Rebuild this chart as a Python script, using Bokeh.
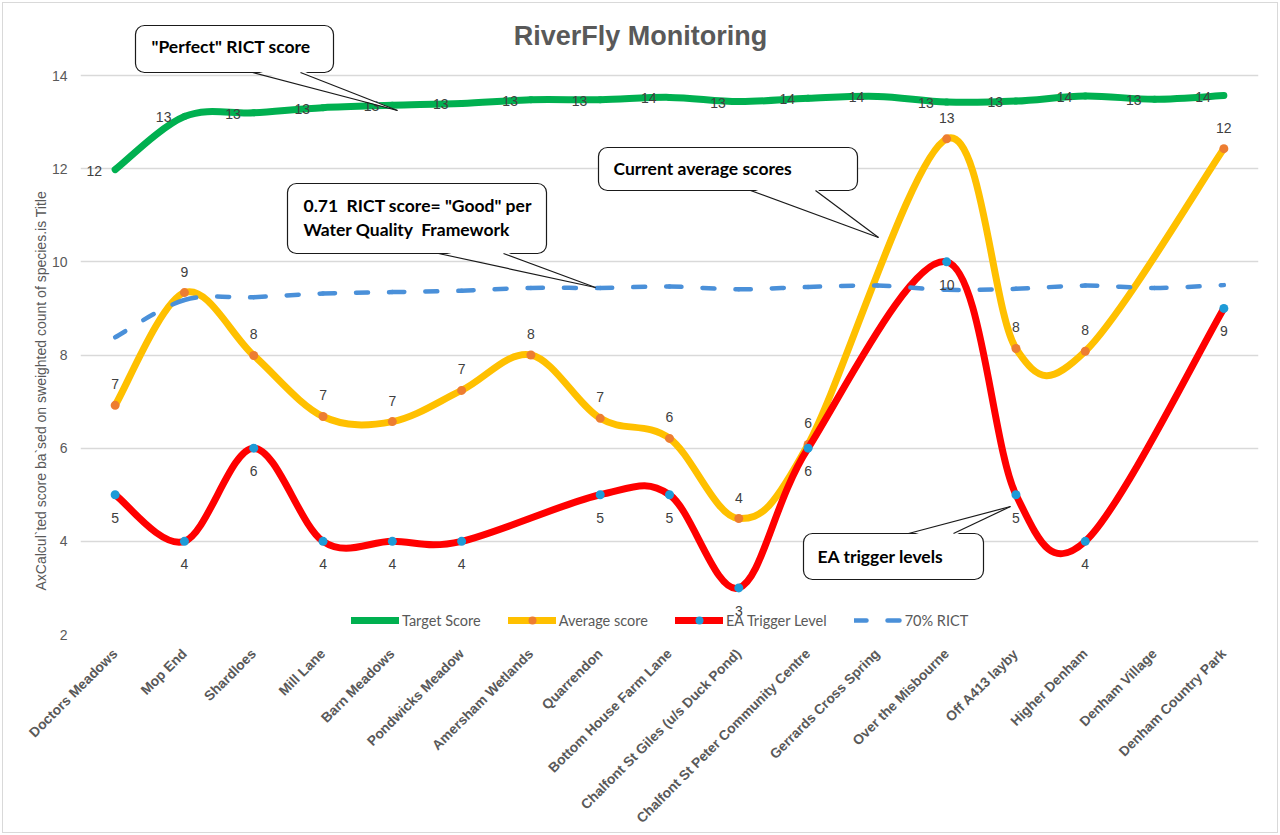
import numpy as np
from bokeh.plotting import figure
from bokeh.models import Range1d, FixedTicker, ColumnDataSource, Legend, LegendItem, Label, Title
from bokeh.core.properties import value
from bokeh.embed import file_html
from bokeh.resources import INLINE

# ---------------- data ----------------
sites = ["Doctors Meadows", "Mop End", "Shardloes", "Mill Lane", "Barn Meadows",
         "Pondwicks Meadow", "Amersham Wetlands", "Quarrendon", "Bottom House Farm Lane",
         "Chalfont St Giles (u/s Duck Pond)", "Chalfont St Peter Community Centre",
         "Gerrards Cross Spring", "Over the Misbourne", "Off A413 layby", "Higher Denham",
         "Denham Village", "Denham Country Park"]
target = [11.98, 13.12, 13.2, 13.31, 13.36, 13.4, 13.48, 13.48, 13.53, 13.44, 13.51,
          13.55, 13.43, 13.45, 13.56, 13.49, 13.57]
average = [6.92, 9.34, 7.99, 6.68, 6.57, 7.24, 8.0, 6.64, 6.21, 4.49, 6.08,
           None, 12.64, 8.14, 8.08, None, 12.43]
ea_trigger = [5, 4, 6, 4, 4, 4, None, 5, 5, 3, 6, None, 10, 5, 4, None, 9]
rict70 = [8.38, 9.18, 9.24, 9.32, 9.35, 9.38, 9.44, 9.44, 9.47, 9.41, 9.46,
          9.49, 9.40, 9.42, 9.49, 9.44, 9.50]
y_ticks = [2, 4, 6, 8, 10, 12, 14]

N = len(sites)

# ---------------- layout helpers (pixel -> data for annotations) ----------------
FL, FR, Y2, Y14 = 80, 1258, 634, 75
XPX = (FR - FL) / N
YPX = (Y2 - Y14) / 12.0
def dx(px):
    return (px - FL) / XPX - 0.5
def dy(py):
    return 2 + (Y2 - py) / YPX

p = figure(width=1280, height=835, x_range=Range1d(-0.5, N - 0.5),
           y_range=Range1d(2, dy(8)), output_backend="svg", toolbar_location=None,
           min_border_left=80, min_border_right=22, min_border_top=8, min_border_bottom=201)
p.outline_line_color = None
p.background_fill_color = "white"
p.border_fill_color = None
p.styles = {"background-color": "white",
            "box-shadow": "inset 0 0 0 2px white, inset 0 0 0 3px #d9d9d9"}

p.xgrid.visible = False
p.ygrid.ticker = FixedTicker(ticks=y_ticks)
p.ygrid.grid_line_color = "#d9d9d9"
p.ygrid.grid_line_width = 1.3

p.yaxis.ticker = FixedTicker(ticks=y_ticks)
p.yaxis.axis_line_color = None
p.yaxis.major_tick_line_color = None
p.yaxis.minor_tick_line_color = None
p.yaxis.major_tick_out = 0
p.yaxis.major_tick_in = 0
p.yaxis.major_label_standoff = 13
p.yaxis.major_label_text_font = "Liberation Sans"
p.yaxis.major_label_text_font_size = "14px"
p.yaxis.major_label_text_color = "#595959"

p.xaxis.ticker = FixedTicker(ticks=list(range(N)))
p.xaxis.major_label_overrides = {i: s for i, s in enumerate(sites)}
p.xaxis.major_label_orientation = np.pi / 4
p.xaxis.axis_line_color = None
p.xaxis.major_tick_line_color = None
p.xaxis.minor_tick_line_color = None
p.xaxis.major_label_standoff = 11
p.xaxis.major_label_text_font = "Liberation Sans"
p.xaxis.major_label_text_font_style = "bold"
p.xaxis.major_label_text_font_size = "13.8px"
p.xaxis.major_label_text_color = "#595959"


def smooth(vals):
    pts = [(i, v) for i, v in enumerate(vals) if v is not None]
    n = len(pts)
    d = {k: [] for k in ["x0", "y0", "x1", "y1", "cx0", "cy0", "cx1", "cy1"]}
    for i in range(n - 1):
        pm = pts[i - 1] if i > 0 else pts[i]
        p0 = pts[i]
        p1 = pts[i + 1]
        pp = pts[i + 2] if i + 2 < n else pts[i + 1]
        d["x0"].append(p0[0]); d["y0"].append(p0[1])
        d["x1"].append(p1[0]); d["y1"].append(p1[1])
        d["cx0"].append(p0[0] + (p1[0] - pm[0]) / 6.0)
        d["cy0"].append(p0[1] + (p1[1] - pm[1]) / 6.0)
        d["cx1"].append(p1[0] - (pp[0] - p0[0]) / 6.0)
        d["cy1"].append(p1[1] - (pp[1] - p0[1]) / 6.0)
    return ColumnDataSource(d)


def points(vals):
    xs = [i for i, v in enumerate(vals) if v is not None]
    ys = [v for v in vals if v is not None]
    return ColumnDataSource(dict(x=xs, y=ys, t=[str(int(np.floor(v + 0.5))) for v in ys]))


GREEN, YELLOW, ORANGE, RED, BLUE, DASH = "#00B050", "#FFC000", "#ED7D31", "#FF0000", "#1E9BD7", "#4A90D9"
LW = 7

bz = dict(x0="x0", y0="y0", x1="x1", y1="y1", cx0="cx0", cy0="cy0", cx1="cx1", cy1="cy1")

p.bezier(**bz, source=smooth(target), line_color=GREEN, line_width=LW, line_cap="round")
p.bezier(**bz, source=smooth(average), line_color=YELLOW, line_width=LW, line_cap="round")
avg_pts = points(average)
r_avg_m = p.scatter("x", "y", source=avg_pts, size=9, fill_color=ORANGE, line_color=None)
p.bezier(**bz, source=smooth(ea_trigger), line_color=RED, line_width=LW, line_cap="round")
ea_pts = points(ea_trigger)
r_ea_m = p.scatter("x", "y", source=ea_pts, size=9, fill_color=BLUE, line_color=None)
p.bezier(**bz, source=smooth(rict70), line_color=DASH, line_width=4.5, line_cap="round",
         line_dash="12 21")

# data labels
lab_font = value("Liberation Sans")
lab_size = value("14px")
p.text("x", "y", "t", source=points(target), text_font=lab_font, text_font_size=lab_size,
       text_color="#404040", text_align="right", text_baseline="middle", x_offset=-13, y_offset=1)
p.text("x", "y", "t", source=avg_pts, text_font=lab_font, text_font_size=lab_size,
       text_color="#404040", text_align="center", text_baseline="middle", y_offset=-21)
p.text("x", "y", "t", source=ea_pts, text_font=lab_font, text_font_size=lab_size,
       text_color="#404040", text_align="center", text_baseline="middle", y_offset=23)

# legend (line samples)
lg_g = p.line(x=[np.nan], y=[np.nan], line_color=GREEN, line_width=LW, line_cap="round")
lg_y = p.line(x=[np.nan], y=[np.nan], line_color=YELLOW, line_width=LW, line_cap="round")
lg_r = p.line(x=[np.nan], y=[np.nan], line_color=RED, line_width=LW, line_cap="round")
lg_d = p.line(x=[np.nan], y=[np.nan], line_color=DASH, line_width=4.5, line_cap="round",
              line_dash="12 21")
legend = Legend(items=[
    LegendItem(label="Target Score", renderers=[lg_g]),
    LegendItem(label="Average score", renderers=[lg_y, r_avg_m]),
    LegendItem(label="EA Trigger Level", renderers=[lg_r, r_ea_m]),
    LegendItem(label="70% RICT", renderers=[lg_d]),
], orientation="horizontal", location=(271, 4), padding=0, margin=0, spacing=27,
   glyph_width=48, glyph_height=20, label_height=20, label_standoff=3,
   border_line_color=None, background_fill_alpha=0,
   label_text_font="Lato", label_text_font_size="14.5px",
   label_text_color="#595959")
p.add_layout(legend, "center")

# callouts
callouts = [
    dict(box=(135, 333, 25, 72), base=((252, 72), (300, 72)), tip=(397, 110),
         lines=['"Perfect" RICT score'], tx=151, ty=[46]),
    dict(box=(287, 546, 183, 253), base=((438, 253), (503, 253)), tip=(595, 287),
         lines=['0.71\u00a0 RICT score= "Good" per', 'Water Quality\u00a0 Framework'], tx=303, ty=[205, 229]),
    dict(box=(598, 857, 147, 190), base=((750, 190), (815, 190)), tip=(878, 237),
         lines=['Current average scores'], tx=613, ty=[168]),
    dict(box=(803, 983, 533, 579), base=((908, 533), (953, 533)), tip=(1010, 506),
         lines=['EA trigger levels'], tx=817, ty=[556]),
]
for c in callouts:
    l, r, t, b = c["box"]
    p.quad(left=dx(l), right=dx(r), top=dy(t), bottom=dy(b), fill_color="white",
           line_color="#1a1a1a", line_width=1.2, border_radius=9)
    (bx1, by1), (bx2, by2) = c["base"]
    tx_, ty_ = c["tip"]
    inset = -2.5 if ty_ > by1 else 2.5
    p.patch(x=[dx(bx1), dx(bx2), dx(tx_)], y=[dy(by1 + inset), dy(by2 + inset), dy(ty_)],
            fill_color="white", line_color=None)
    p.segment(x0=[dx(bx1), dx(bx2)], y0=[dy(by1), dy(by2)], x1=[dx(tx_), dx(tx_)],
              y1=[dy(ty_), dy(ty_)], line_color="#1a1a1a", line_width=1.2)
    for line, yy in zip(c["lines"], c["ty"]):
        p.add_layout(Label(x=dx(c["tx"]), y=dy(yy), text=line, text_font="Lato",
                           text_font_style="bold", text_font_size="17.5px", text_color="black",
                           text_align="left", text_baseline="middle"))

# title
p.add_layout(Label(x=dx(640), y=dy(35), text="RiverFly Monitoring", text_font="Liberation Sans",
                   text_font_style="bold", text_font_size="27px", text_color="#595959",
                   text_align="center", text_baseline="middle"))
# y axis title
p.add_layout(Title(text="AxCalcul`ted score ba`sed on sweighted count of species.is Title",
                   align="left", offset=44, text_font="Liberation Sans", text_font_size="14px",
                   text_font_style="normal", text_color="#595959", standoff=0), "left")

open("out.html", "w").write(file_html(p, INLINE))
